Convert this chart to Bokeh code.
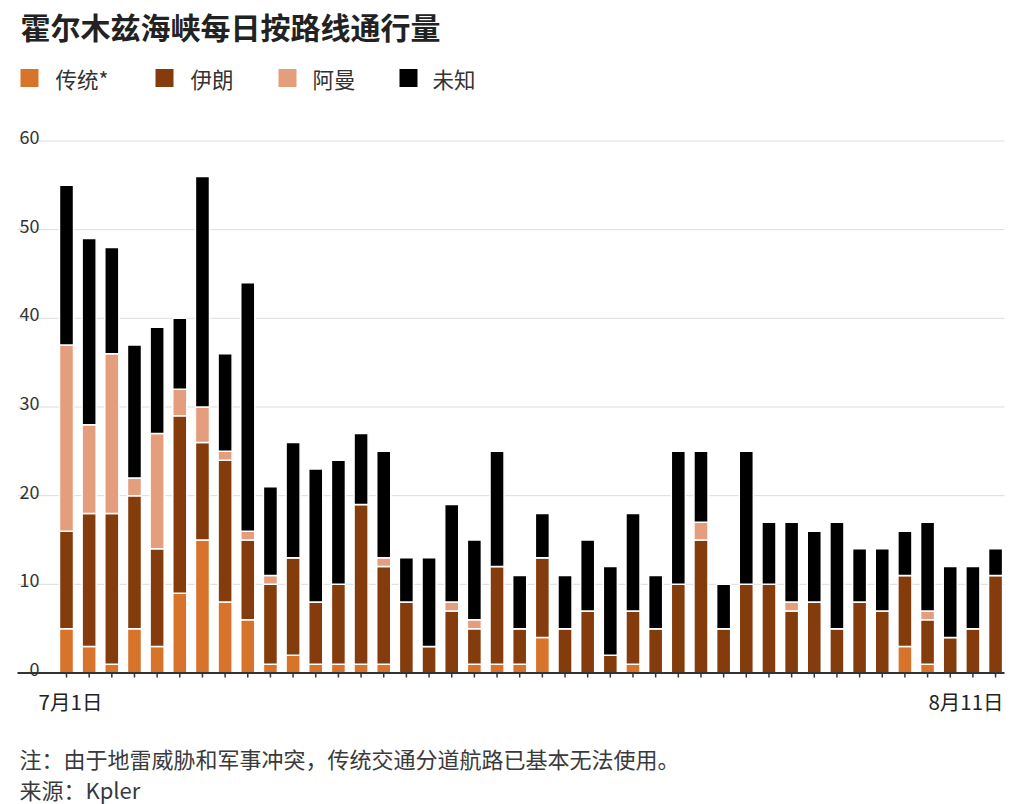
from bokeh.plotting import figure
from bokeh.models import Range1d, ColumnDataSource
from bokeh.core.properties import value
from bokeh.embed import file_html
from bokeh.resources import INLINE
import pandas as pd

# ---------------- data ----------------
dates = pd.date_range("2025-07-01", "2025-08-11", freq="D")
day_labels = [f"{d.month}月{d.day}日" for d in dates]

traditional = [5, 3, 1, 5, 3, 9, 15, 8, 6, 1, 2, 1, 1, 1, 1, 0, 0, 0, 1, 1, 1,
               4, 0, 0, 0, 1, 0, 0, 0, 0, 0, 0, 0, 0, 0, 0, 0, 3, 1, 0, 0, 0]
iran = [11, 15, 17, 15, 11, 20, 11, 16, 9, 9, 11, 7, 9, 18, 11, 8, 3, 7, 4, 11, 4,
        9, 5, 7, 2, 6, 5, 10, 15, 5, 10, 10, 7, 8, 5, 8, 7, 8, 5, 4, 5, 11]
oman = [21, 10, 18, 2, 13, 3, 4, 1, 1, 1, 0, 0, 0, 0, 1, 0, 0, 1, 1, 0, 0,
        0, 0, 0, 0, 0, 0, 0, 2, 0, 0, 0, 1, 0, 0, 0, 0, 0, 1, 0, 0, 0]
unknown = [18, 21, 12, 15, 12, 8, 26, 11, 28, 10, 13, 15, 14, 8, 12, 5, 10, 11, 9, 13, 6,
           5, 6, 8, 10, 11, 6, 15, 8, 5, 15, 7, 9, 8, 12, 6, 7, 5, 10, 8, 7, 3]

series_keys = ["traditional", "iran", "oman", "unknown"]
series_names = ["传统*", "伊朗", "阿曼", "未知"]
colors = ["#D7732A", "#843C0D", "#E49E7E", "#000000"]
y_ticks = [0, 10, 20, 30, 40, 50, 60]
title_text = "霍尔木兹海峡每日按路线通行量"
note_text = "注：由于地雷威胁和军事冲突，传统交通分道航路已基本无法使用。"
source_text = "来源：Kpler"

# ---------------- geometry ----------------
W, H = 1016, 804
KX = 22.66          # px per day
KY = 8.867          # px per vessel
X0_PX = 66.0        # canvas px of first bar centre
Y0_PX = H - 672.5   # canvas px (from bottom) of zero
xs = -X0_PX / KX
xe = xs + W / KX
ys = -Y0_PX / KY
ye = ys + H / KY


def dx(px):
    return xs + px / KX


def dy(py):
    return ys + (H - py) / KY


FONT = value("Noto Sans CJK SC")

p = figure(width=W, height=H, x_range=Range1d(xs, xe), y_range=Range1d(ys, ye),
           output_backend="svg", toolbar_location=None,
           x_axis_location=None, y_axis_location=None,
           min_border=0, min_border_left=0, min_border_right=0,
           min_border_top=0, min_border_bottom=0,
           outline_line_color=None, background_fill_color="white",
           border_fill_color="white")
p.grid.visible = False
p.xgrid.visible = False
p.ygrid.visible = False

# gridlines
grid_vals = y_ticks[1:]
p.segment(x0=[dx(17)] * len(grid_vals), y0=grid_vals,
          x1=[dx(1004)] * len(grid_vals), y1=grid_vals,
          line_color="#dddddd", line_width=1)

# bars
src = ColumnDataSource(dict(x=list(range(len(dates))), traditional=traditional,
                            iran=iran, oman=oman, unknown=unknown))
p.vbar_stack(series_keys, x="x", width=0.62, fill_color=colors,
             line_color="white", line_width=1.5, source=src)

# baseline axis and ticks
p.segment(x0=[dx(17)], y0=[0], x1=[dx(1004)], y1=[0], line_color="#333333", line_width=2)
idx = list(range(len(dates)))
p.segment(x0=idx, y0=[0] * len(idx), x1=idx, y1=[-4.5 / KY] * len(idx),
          line_color="#333333", line_width=1.5)

# y tick labels
p.text(x=[dx(39)] * len(y_ticks), y=y_ticks, text=[str(t) for t in y_ticks],
       text_align="right", text_baseline="alphabetic", y_offset=-4,
       text_font=FONT, text_font_size="18px", text_color="#333333")

# x labels (first and last day)
p.text(x=[0], y=[dy(700)], text=[day_labels[0]], text_align="center",
       text_baseline="middle", x_offset=4,
       text_font=FONT, text_font_size="20.5px", text_color="#222222")
p.text(x=[len(dates) - 1], y=[dy(700)], text=[day_labels[-1]], text_align="right",
       text_baseline="middle", x_offset=8,
       text_font=FONT, text_font_size="20.5px", text_color="#222222")

# title
p.text(x=[dx(20)], y=[dy(25)], text=[title_text], text_align="left",
       text_baseline="middle", text_font=FONT, text_font_size="30px",
       text_font_style="bold", text_color="#222222")

# legend
sq_x = [dx(29), dx(164), dx(287), dx(408)]
tx_x = [dx(55), dx(190), dx(312), dx(432)]
p.scatter(x=sq_x, y=[dy(77.5)] * 4, marker="square", size=18,
          fill_color=colors, line_color=None)
p.text(x=tx_x, y=[dy(78)] * 4, text=series_names, text_align="left",
       text_baseline="middle", text_font=FONT, text_font_size="21.5px",
       text_color="#333333")

# footer
p.text(x=[dx(19), dx(19)], y=[dy(757), dy(788)], text=[note_text, source_text],
       text_align="left", text_baseline="middle", text_font=FONT,
       text_font_size="22px", text_color="#3a3a3a")

open("out.html", "w").write(file_html(p, INLINE))
